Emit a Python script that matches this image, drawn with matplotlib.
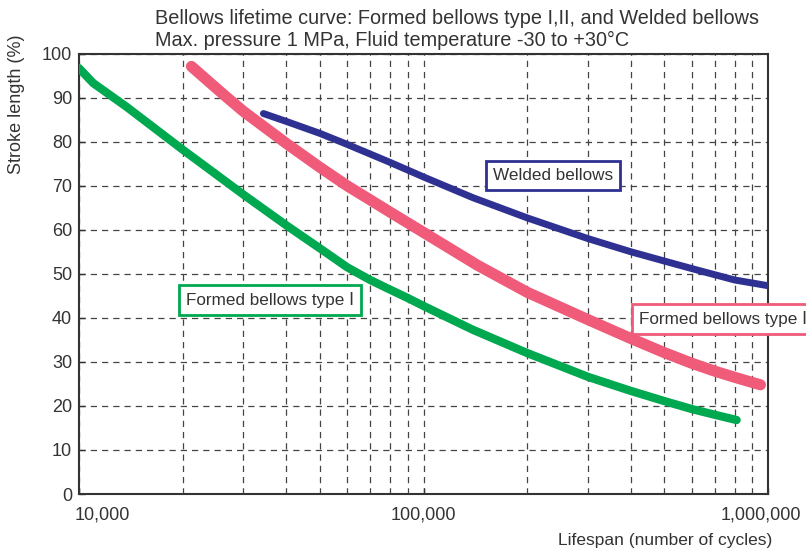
import matplotlib
matplotlib.use("Agg")
import matplotlib.pyplot as plt
from matplotlib.ticker import FixedLocator, NullFormatter
from matplotlib.transforms import ScaledTranslation

# Lifetime curves (cycles, stroke %)
type1_cycles = [10000, 11000, 13700, 20000, 30000, 40000, 50000, 60000, 70000, 80000,
                90000, 100000, 139000, 200000, 300000, 400000, 500000, 600000, 700000, 810000]
type1_stroke = [96.7, 93.3, 88.0, 78.2, 68.0, 61.0, 55.8, 51.5, 48.6, 46.4,
                44.5, 42.7, 37.3, 32.0, 26.6, 23.4, 21.1, 19.3, 18.0, 16.8]

type2_cycles = [21200, 26200, 30000, 40000, 50000, 60000, 70000, 80000, 100000, 143000,
                200000, 300000, 400000, 500000, 600000, 700000, 800000, 950000]
type2_stroke = [97.1, 90.8, 86.9, 79.6, 74.2, 70.0, 66.8, 64.0, 59.4, 52.0,
                45.8, 39.6, 35.3, 32.1, 29.7, 27.9, 26.5, 24.8]

welded_cycles = [34300, 40000, 50000, 60000, 80000, 100000, 139000, 200000, 300000,
                 400000, 500000, 600000, 700000, 800000, 1000000]
welded_stroke = [86.4, 84.6, 81.9, 79.4, 75.3, 72.0, 67.3, 62.7, 58.0,
                 55.0, 52.9, 51.2, 49.8, 48.6, 47.3]

x_ticks = [10000, 100000, 1000000]
x_tick_labels = ["10,000", "100,000", "1,000,000"]
y_ticks = list(range(0, 101, 10))

green = "#00a84f"
pink = "#ef5b78"
navy = "#2e3192"
txt = "#333333"
font = ["Liberation Sans", "DejaVu Sans"]

fig = plt.figure(figsize=(8.06, 5.56), dpi=100)
ax = fig.add_axes([0.098, 0.1115, 0.855, 0.792])

ax.plot(type1_cycles, type1_stroke, color=green, lw=6, solid_capstyle="round",
        solid_joinstyle="round", zorder=3)
ax.plot(type2_cycles, type2_stroke, color=pink, lw=8, solid_capstyle="round",
        solid_joinstyle="round", zorder=3)
ax.plot(welded_cycles, welded_stroke, color=navy, lw=5, solid_capstyle="round",
        solid_joinstyle="round", zorder=4)

ax.set_xscale("log")
ax.set_xlim(10000, 1000000)
ax.set_ylim(0, 100)
ax.xaxis.set_major_locator(FixedLocator(x_ticks))
ax.xaxis.set_minor_locator(FixedLocator([m * 10 ** k for k in (4, 5) for m in range(2, 10)]))
ax.xaxis.set_minor_formatter(NullFormatter())
ax.set_xticklabels(x_tick_labels, family=font, fontsize=13)
ax.set_yticks(y_ticks)
ax.set_yticklabels([str(v) for v in y_ticks], family=font, fontsize=13)
ax.tick_params(axis="both", which="both", direction="in", length=4, width=1, color=txt)
ax.tick_params(axis="x", which="minor", length=0)
ax.tick_params(axis="x", pad=9)
ax.tick_params(axis="y", pad=5)
labels = ax.get_xticklabels()
labels[0].set_horizontalalignment("left")
labels[0].set_transform(labels[0].get_transform() + ScaledTranslation(-4 / 100, 0, fig.dpi_scale_trans))
labels[-1].set_transform(labels[-1].get_transform() + ScaledTranslation(-7 / 100, 0, fig.dpi_scale_trans))
for lab in ax.get_xticklabels() + ax.get_yticklabels():
    lab.set_color(txt)

ax.grid(which="both", axis="x", color="#444444", linestyle=(0, (5, 4)), linewidth=0.9)
ax.grid(which="major", axis="y", color="#444444", linestyle=(0, (5, 4)), linewidth=0.9)
for s in ax.spines.values():
    s.set_color(txt)
    s.set_linewidth(1.5)

ax.set_ylabel("Stroke length (%)", family=font, fontsize=13, color=txt)
ax.yaxis.set_label_coords(-0.078, 0.885)
fig.text(0.958, 0.027, "Lifespan (number of cycles)", family=font, fontsize=12.5,
         color=txt, ha="right", va="center")

fig.text(0.192, 0.967, "Bellows lifetime curve: Formed bellows type I,II, and Welded bellows",
         family=font, fontsize=14.3, color=txt, ha="left", va="center")
fig.text(0.192, 0.928, "Max. pressure 1 MPa, Fluid temperature -30 to +30\u00b0C",
         family=font, fontsize=14.3, color=txt, ha="left", va="center")

ax.text(35800, 44.0, "Formed bellows type \u2160", family=font, fontsize=12.3,
        color=txt, ha="center", va="center", zorder=5,
        bbox=dict(boxstyle="square,pad=0.4", fc="white", ec=green, lw=2))
ax.text(238000, 72.3, "Welded bellows", family=font, fontsize=12.3,
        color=txt, ha="center", va="center", zorder=5,
        bbox=dict(boxstyle="square,pad=0.4", fc="white", ec=navy, lw=2))
ax.text(422000, 39.8, "Formed bellows type \u2161", family=font, fontsize=12.3,
        color=txt, ha="left", va="center", zorder=5, clip_on=False,
        bbox=dict(boxstyle="square,pad=0.4", fc="white", ec=pink, lw=2))

fig.savefig("out.png", dpi=100)
